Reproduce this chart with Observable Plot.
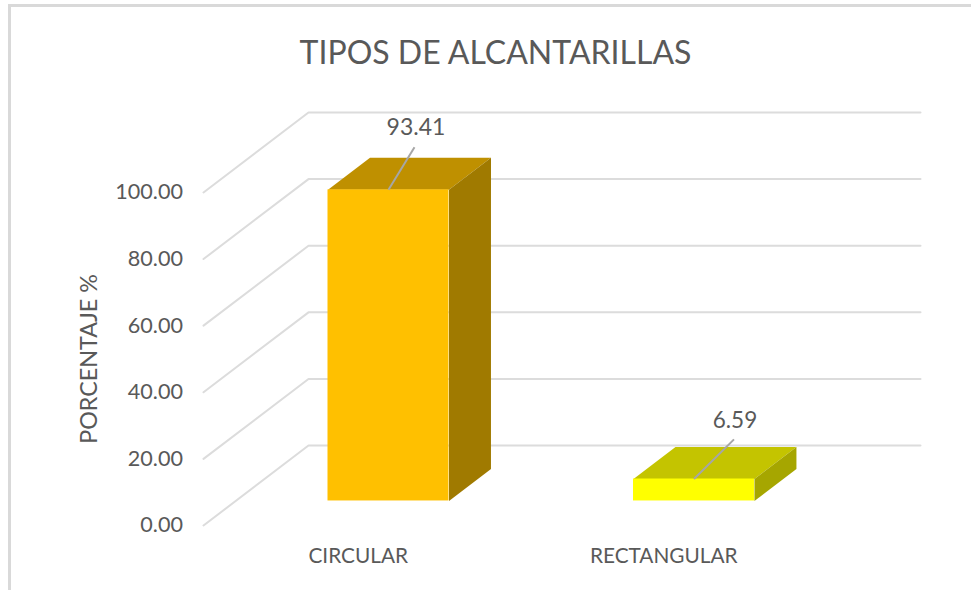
<!DOCTYPE html>
<html lang="es">
<head>
<meta charset="utf-8">
<script src="https://cdn.jsdelivr.net/npm/d3@7"></script>
<script src="https://cdn.jsdelivr.net/npm/@observablehq/plot@0.6"></script>
<style>
  html, body { margin: 0; padding: 0; background: #fff; overflow: hidden; }
  #wrap { position: relative; width: 971px; height: 590px; }
  #frame { position: absolute; left: 8px; top: 4px; right: 0; bottom: -10px; border-left: 3px solid #d9d9d9; border-top: 3px solid #d9d9d9; pointer-events: none; }
  svg { display: block; }
</style>
</head>
<body>
<div id="wrap"><div id="frame"></div></div>
<script>
const titleText = "TIPOS DE ALCANTARILLAS";
const yLabel = "PORCENTAJE %";
const categories = ["CIRCULAR", "RECTANGULAR"];
const values = [93.41, 6.59];
const frontColors = ["#ffc000", "#ffff00"];
const topColors = ["#bf9000", "#c4c400"];
const sideColors = ["#a07a00", "#a6a600"];
const yTicks = [0, 20, 40, 60, 80, 100];

// Oblique 3D: depth runs along x (category units) and y (value units).
const DX = 0.3437, DY = 24;
const xMax = 2.347, yMax = 100 + DY;
const halfW = 0.198, d0 = 0.307, d1 = 0.707;
const P = (c, v, d) => ({x: c + d * DX, y: v + d * DY});

const bars = categories.map((name, i) => ({name, i, c: i + 0.5, v: values[i]}));
const poly = (b, face, fill, pts) => pts.map(p => ({...p, face: b.name + face, fill}));
const faces = bars.flatMap(b => [
  poly(b, "top", topColors[b.i], [P(b.c - halfW, b.v, d0), P(b.c + halfW, b.v, d0), P(b.c + halfW, b.v, d1), P(b.c - halfW, b.v, d1)]),
  poly(b, "side", sideColors[b.i], [P(b.c + halfW, 0, d0), P(b.c + halfW, b.v, d0), P(b.c + halfW, b.v, d1), P(b.c + halfW, 0, d1)])
].flat());
const front = bars.map(b => ({
  x1: P(b.c - halfW, 0, d0).x, x2: P(b.c + halfW, 0, d0).x,
  y1: P(b.c, 0, d0).y, y2: P(b.c, b.v, d0).y, fill: frontColors[b.i]
}));
const grid = yTicks.flatMap(t => [
  {t, ...P(0, t, 0)}, {t, ...P(0, t, 1)}, {t, x: xMax, y: t + DY}
]);
const labelAnchor = b => P(b.c, b.v, d0);
const leaderReach = [[0.0851, 12.8], [0.131, 11.9]];
const leaders = bars.map(b => {
  const a = labelAnchor(b);
  return {x1: a.x, y1: a.y, x2: a.x + leaderReach[b.i][0], y2: a.y + leaderReach[b.i][1]};
});
const font = "Lato, 'Open Sans', sans-serif";
const ink = "#595959";

const chart = Plot.plot({
  width: 971,
  height: 590,
  marginLeft: 203,
  marginRight: 51,
  marginTop: 112,
  marginBottom: 65,
  style: {fontFamily: font, background: "transparent", color: ink},
  x: {domain: [0, xMax], axis: null},
  y: {domain: [0, yMax], axis: null},
  color: {type: "identity"},
  marks: [
    Plot.line(grid, {x: "x", y: "y", z: "t", stroke: "#dcdcdc", strokeWidth: 2}),
    Plot.line(faces, {x: "x", y: "y", z: "face", fill: "fill", stroke: "none"}),
    Plot.rect(front, {x1: "x1", x2: "x2", y1: "y1", y2: "y2", fill: "fill"}),
    Plot.link(leaders, {x1: "x1", y1: "y1", x2: "x2", y2: "y2", stroke: "#a6a6a6", strokeWidth: 2}),
    Plot.text(yTicks, {x: 0, y: d => d, text: d => d.toFixed(2), textAnchor: "end", dx: -20.5, fontSize: 21.6, fill: ink}),
    Plot.text(bars, {x: "c", y: 0, text: "name", dx: 2, dy: 31, fontSize: 20.8, fill: ink}),
    Plot.text([bars[0]], {x: d => labelAnchor(d).x, y: d => labelAnchor(d).y, text: d => d.v.toFixed(2), dx: 27.5, dy: -62, fontSize: 23, fill: ink}),
    Plot.text([bars[1]], {x: d => labelAnchor(d).x, y: d => labelAnchor(d).y, text: d => d.v.toFixed(2), dx: 41, dy: -58, fontSize: 22.5, fill: ink}),
    Plot.text([yLabel], {frameAnchor: "left", y: 50, text: d => d, textAnchor: "middle", rotate: -90, dx: -114, fontSize: 23.3, fill: ink}),
    Plot.text([titleText], {frameAnchor: "top", text: d => d, dx: -66.5, dy: -71, fontSize: 32, fill: ink})
  ]
});
document.getElementById("wrap").prepend(chart);
</script>
</body>
</html>
